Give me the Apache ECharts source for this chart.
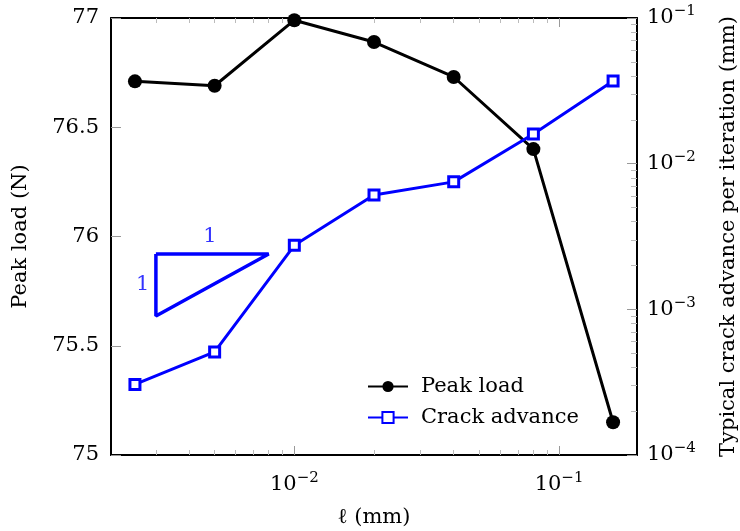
<!DOCTYPE html>
<html><head><meta charset="utf-8">
<script src="https://cdn.jsdelivr.net/npm/echarts@6/dist/echarts.min.js"></script>
<style>html,body{margin:0;padding:0;background:#fff}#c{width:740px;height:531px}</style>
</head><body><div id="c"></div>
<script>
const lengths = [0.0025, 0.005, 0.01, 0.02, 0.04, 0.08, 0.16];
const peakLoad = [76.71, 76.69, 76.99, 76.89, 76.73, 76.40, 75.15];
const crackAdvance = [3.05e-4, 5.1e-4, 2.75e-3, 6.1e-3, 7.5e-3, 1.6e-2, 3.7e-2];
const leftTicks = [75, 75.5, 76, 76.5, 77];
const xMajor = [0.01, 0.1];
const yRightMajor = [1e-4, 1e-3, 1e-2, 1e-1];
const slopeTriangle = [[0.003, 2.4e-3], [0.008, 2.4e-3], [0.003, 9.0e-4], [0.003, 2.4e-3]];
const slopeLabels = [[0.0048, 2.4e-3, 'top'], [0.003, 1.47e-3, 'left']];

const FONT = 'DejaVu Serif';
const FS = 21;
function minors(lo, hi) {
  const out = [];
  for (let e = lo; e <= hi; e++) for (let m = 2; m <= 9; m++) out.push(m * Math.pow(10, e));
  return out;
}
const xMinor = minors(-3, -1);
const yMinor = minors(-4, -2);
function pow10(v) {
  const e = Math.round(Math.log10(v));
  return '{b|10}{s|−' + Math.abs(e) + '}';
}
const rich = {
  b: {fontFamily: FONT, fontSize: FS, color: '#000'},
  s: {fontFamily: FONT, fontSize: 15, color: '#000', verticalAlign: 'bottom', padding: [0, 0, 13, 0]}
};
const xMin = 0.00203, xMax = 0.197;
const gray = '#999';

const chart = echarts.init(document.getElementById('c'));
chart.setOption({
  animation: false,
  backgroundColor: '#fff',
  grid: {left: 111, right: 103, top: 18, bottom: 76, containLabel: false, outerBoundsMode: 'none'},
  legend: {
    orient: 'vertical', left: 362, top: 371, itemGap: 10,
    itemWidth: 40, itemHeight: 14,
    textStyle: {fontFamily: FONT, fontSize: FS, color: '#000', padding: [0, 0, 0, 8]},
    data: ['Peak load', 'Crack advance']
  },
  xAxis: [
    {type: 'log', min: xMin, max: xMax, position: 'bottom',
     name: 'ℓ (mm)', nameLocation: 'middle', nameGap: 52,
     nameTextStyle: {fontFamily: FONT, fontSize: FS, color: '#000'},
     axisLine: {lineStyle: {color: '#000', width: 2}},
     axisTick: {inside: true, length: 9, lineStyle: {color: gray}, customValues: xMajor},
     axisLabel: {customValues: xMajor, formatter: pow10, rich: rich, margin: 16},
     splitLine: {show: false}},
    {type: 'log', min: xMin, max: xMax, position: 'bottom',
     axisLine: {show: false},
     axisTick: {inside: true, length: 5, lineStyle: {color: '#bbb'}, customValues: xMinor},
     axisLabel: {show: false}, splitLine: {show: false}},
    {type: 'log', min: xMin, max: xMax, position: 'top',
     axisLine: {lineStyle: {color: '#000', width: 2}},
     axisTick: {inside: true, length: 9, lineStyle: {color: gray}, customValues: xMajor},
     axisLabel: {show: false}, splitLine: {show: false}},
    {type: 'log', min: xMin, max: xMax, position: 'top',
     axisLine: {show: false},
     axisTick: {inside: true, length: 5, lineStyle: {color: '#bbb'}, customValues: xMinor},
     axisLabel: {show: false}, splitLine: {show: false}}
  ],
  yAxis: [
    {type: 'value', min: 75, max: 77, interval: 0.5, position: 'left',
     name: 'Peak load (N)', nameLocation: 'middle', nameGap: 80, nameRotate: 90,
     nameTextStyle: {fontFamily: FONT, fontSize: FS, color: '#000'},
     axisLine: {show: true, lineStyle: {color: '#000', width: 2}},
     axisTick: {show: true, inside: true, length: 10, lineStyle: {color: gray}},
     axisLabel: {fontFamily: FONT, fontSize: FS, color: '#000', margin: 12,
                 formatter: v => leftTicks.includes(v) ? String(v) : ''},
     splitLine: {show: false}},
    {type: 'log', min: 1e-4, max: 1e-1, position: 'right',
     name: 'Typical crack advance per iteration (mm)', nameLocation: 'middle', nameGap: 81, nameRotate: 90,
     nameTextStyle: {fontFamily: FONT, fontSize: FS, color: '#000'},
     axisLine: {show: true, lineStyle: {color: '#000', width: 2}},
     axisTick: {show: true, inside: true, length: 10, lineStyle: {color: gray}, customValues: yRightMajor},
     axisLabel: {customValues: yRightMajor, formatter: pow10, rich: rich, margin: 10},
     splitLine: {show: false}},
    {type: 'log', min: 1e-4, max: 1e-1, position: 'right',
     axisLine: {show: false},
     axisTick: {show: true, inside: true, length: 6, lineStyle: {color: '#bbb'}, customValues: yMinor},
     axisLabel: {show: false}, splitLine: {show: false}}
  ],
  series: [
    {name: 'Peak load', type: 'line', xAxisIndex: 0, yAxisIndex: 0,
     data: lengths.map((x, i) => [x, peakLoad[i]]),
     symbol: 'circle', symbolSize: 14,
     lineStyle: {color: '#000', width: 3}, itemStyle: {color: '#000'}, z: 3},
    {name: 'Crack advance', type: 'line', xAxisIndex: 0, yAxisIndex: 1,
     data: lengths.map((x, i) => [x, crackAdvance[i]]),
     symbol: 'rect', symbolSize: 10,
     lineStyle: {color: '#0000ff', width: 3},
     itemStyle: {color: '#fff', borderColor: '#0000ff', borderWidth: 3}, z: 3},
    {name: 'slope', type: 'line', xAxisIndex: 0, yAxisIndex: 1,
     data: slopeTriangle, symbol: 'none',
     lineStyle: {color: '#0000ff', width: 3.5}, silent: true},
    {name: 'slopeText', type: 'scatter', xAxisIndex: 0, yAxisIndex: 1,
     data: slopeLabels.map(d => ({value: [d[0], d[1]], label: {position: d[2]}})),
     symbolSize: 1, itemStyle: {color: 'rgba(0,0,0,0)'},
     label: {show: true, formatter: '1', distance: 6, color: '#0000ff', fontFamily: FONT, fontSize: FS}}
  ]
});
</script></body></html>
